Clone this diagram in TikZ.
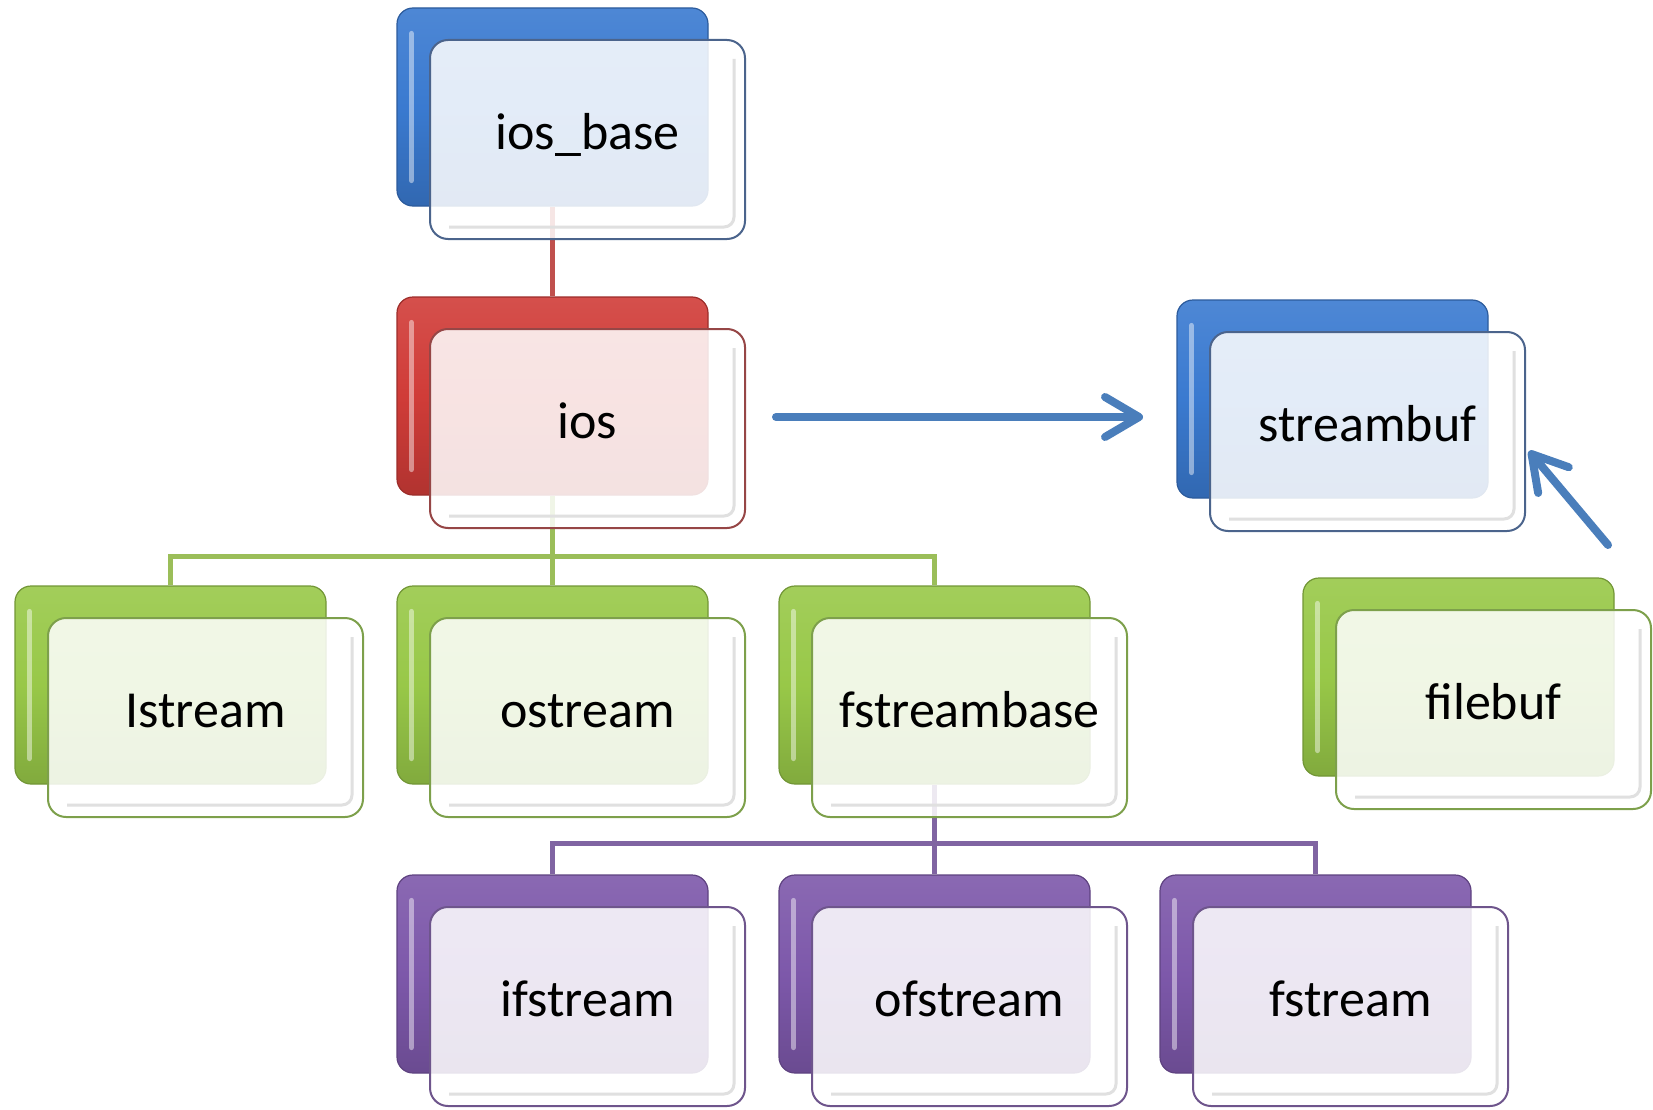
\documentclass[tikz,border=0pt]{standalone}
\usepackage{fontspec}
\setmainfont{Carlito}
\usetikzlibrary{arrows.meta,calc}
\definecolor{blueBack}{RGB}{58,122,208}
\definecolor{blueEdge}{RGB}{75,100,140}
\definecolor{redBack}{RGB}{208,60,56}
\definecolor{redEdge}{RGB}{150,70,70}
\definecolor{greenBack}{RGB}{152,200,72}
\definecolor{greenEdge}{RGB}{125,160,75}
\definecolor{purpleBack}{RGB}{125,88,170}
\definecolor{purpleEdge}{RGB}{110,85,140}
\definecolor{redLine}{RGB}{192,80,77}
\definecolor{greenLine}{RGB}{155,190,89}
\definecolor{purpleLine}{RGB}{128,100,162}
\definecolor{arrowBlue}{RGB}{74,126,187}
\tikzset{
  backbox/.style={rectangle, rounded corners=16pt, minimum width=311pt, minimum height=198pt,
    inner sep=0pt, draw=#1!75!black, line width=1.2pt,
    top color=#1!90!white, bottom color=#1!85!black, middle color=#1},
  frontbox/.style={rectangle, rounded corners=18pt, minimum width=315pt, minimum height=199pt,
    inner sep=0pt, draw=#1, line width=2pt, fill=white, fill opacity=0.86},
  hilite/.style={draw=white, draw opacity=0.45, line width=5pt, line cap=round},
  innerbevel/.style={draw=black!12, line width=3pt, rounded corners=10pt},
  lbl/.style={anchor=base, inner sep=0pt, font=\fontsize{52pt}{60pt}\selectfont, text=black},
  conn/.style={line width=5pt},
  bluearrow/.style={draw=arrowBlue, line width=8pt, line cap=round,
    -{Straight Barb[length=34pt,width=40pt,round]}}
}
\newcommand\mkback[4]{%
  \node[backbox=#4] (#1B) at (#2+155.5,#3+99) {};
  \draw[hilite] ([xshift=15pt,yshift=-26pt]#1B.north west) -- ([xshift=15pt,yshift=26pt]#1B.south west);
}
\newcommand\mkfront[3]{%
  \node[frontbox=#2] (#1F) at ($(#1B.center)+(35,32.5)$) {};
  \draw[innerbevel] ([xshift=-12pt,yshift=-20pt]#1F.north east) -- ([xshift=-12pt,yshift=13pt]#1F.south east)
     -- ([xshift=20pt,yshift=13pt]#1F.south west);
  \node[lbl] (#1T) at ([yshift=-10pt]#1F.center) {#3};
}
\begin{document}
\begin{tikzpicture}[x=1pt,y=-1pt]
\useasboundingbox (0,0) rectangle (1653,1110);
% back boxes
\mkback{iosbase}{397}{8}{blueBack}
\mkback{ios}{397}{297}{redBack}
\mkback{istream}{15}{586}{greenBack}
\mkback{ostream}{397}{586}{greenBack}
\mkback{fsbase}{779}{586}{greenBack}
\mkback{ifstream}{397}{875}{purpleBack}
\mkback{ofstream}{779}{875}{purpleBack}
\mkback{fstream}{1160}{875}{purpleBack}
\mkback{streambuf}{1177}{300}{blueBack}
\mkback{filebuf}{1303}{578}{greenBack}
% connectors
\draw[conn, draw=redLine] (iosbaseB.south) -- (iosB.north);
\coordinate (gbus) at ($(iosB.south)+(0,61)$);
\draw[conn, draw=greenLine] (iosB.south) -- (ostreamB.north);
\draw[conn, draw=greenLine] (istreamB.north) |- (gbus) -| (fsbaseB.north);
\coordinate (pbus) at ($(fsbaseB.south)+(0,59)$);
\draw[conn, draw=purpleLine] (fsbaseB.south) -- (ofstreamB.north);
\draw[conn, draw=purpleLine] (ifstreamB.north) |- (pbus) -| (fstreamB.north);
% front boxes
\mkfront{iosbase}{blueEdge}{ios\_base}
\mkfront{ios}{redEdge}{ios}
\mkfront{istream}{greenEdge}{Istream}
\mkfront{ostream}{greenEdge}{ostream}
\mkfront{fsbase}{greenEdge}{fstreambase}
\mkfront{ifstream}{purpleEdge}{ifstream}
\mkfront{ofstream}{purpleEdge}{ofstream}
\mkfront{fstream}{purpleEdge}{fstream}
\mkfront{streambuf}{blueEdge}{streambuf}
\mkfront{filebuf}{greenEdge}{filebuf}
% arrows
\coordinate (a1s) at (776,417);
\coordinate (a1e) at (1143,417);
\draw[bluearrow] (a1s) -- (a1e);
\coordinate (a2s) at (1608,545);
\coordinate (a2e) at (1529,451);
\draw[bluearrow] (a2s) -- (a2e);
\end{tikzpicture}
\end{document}
